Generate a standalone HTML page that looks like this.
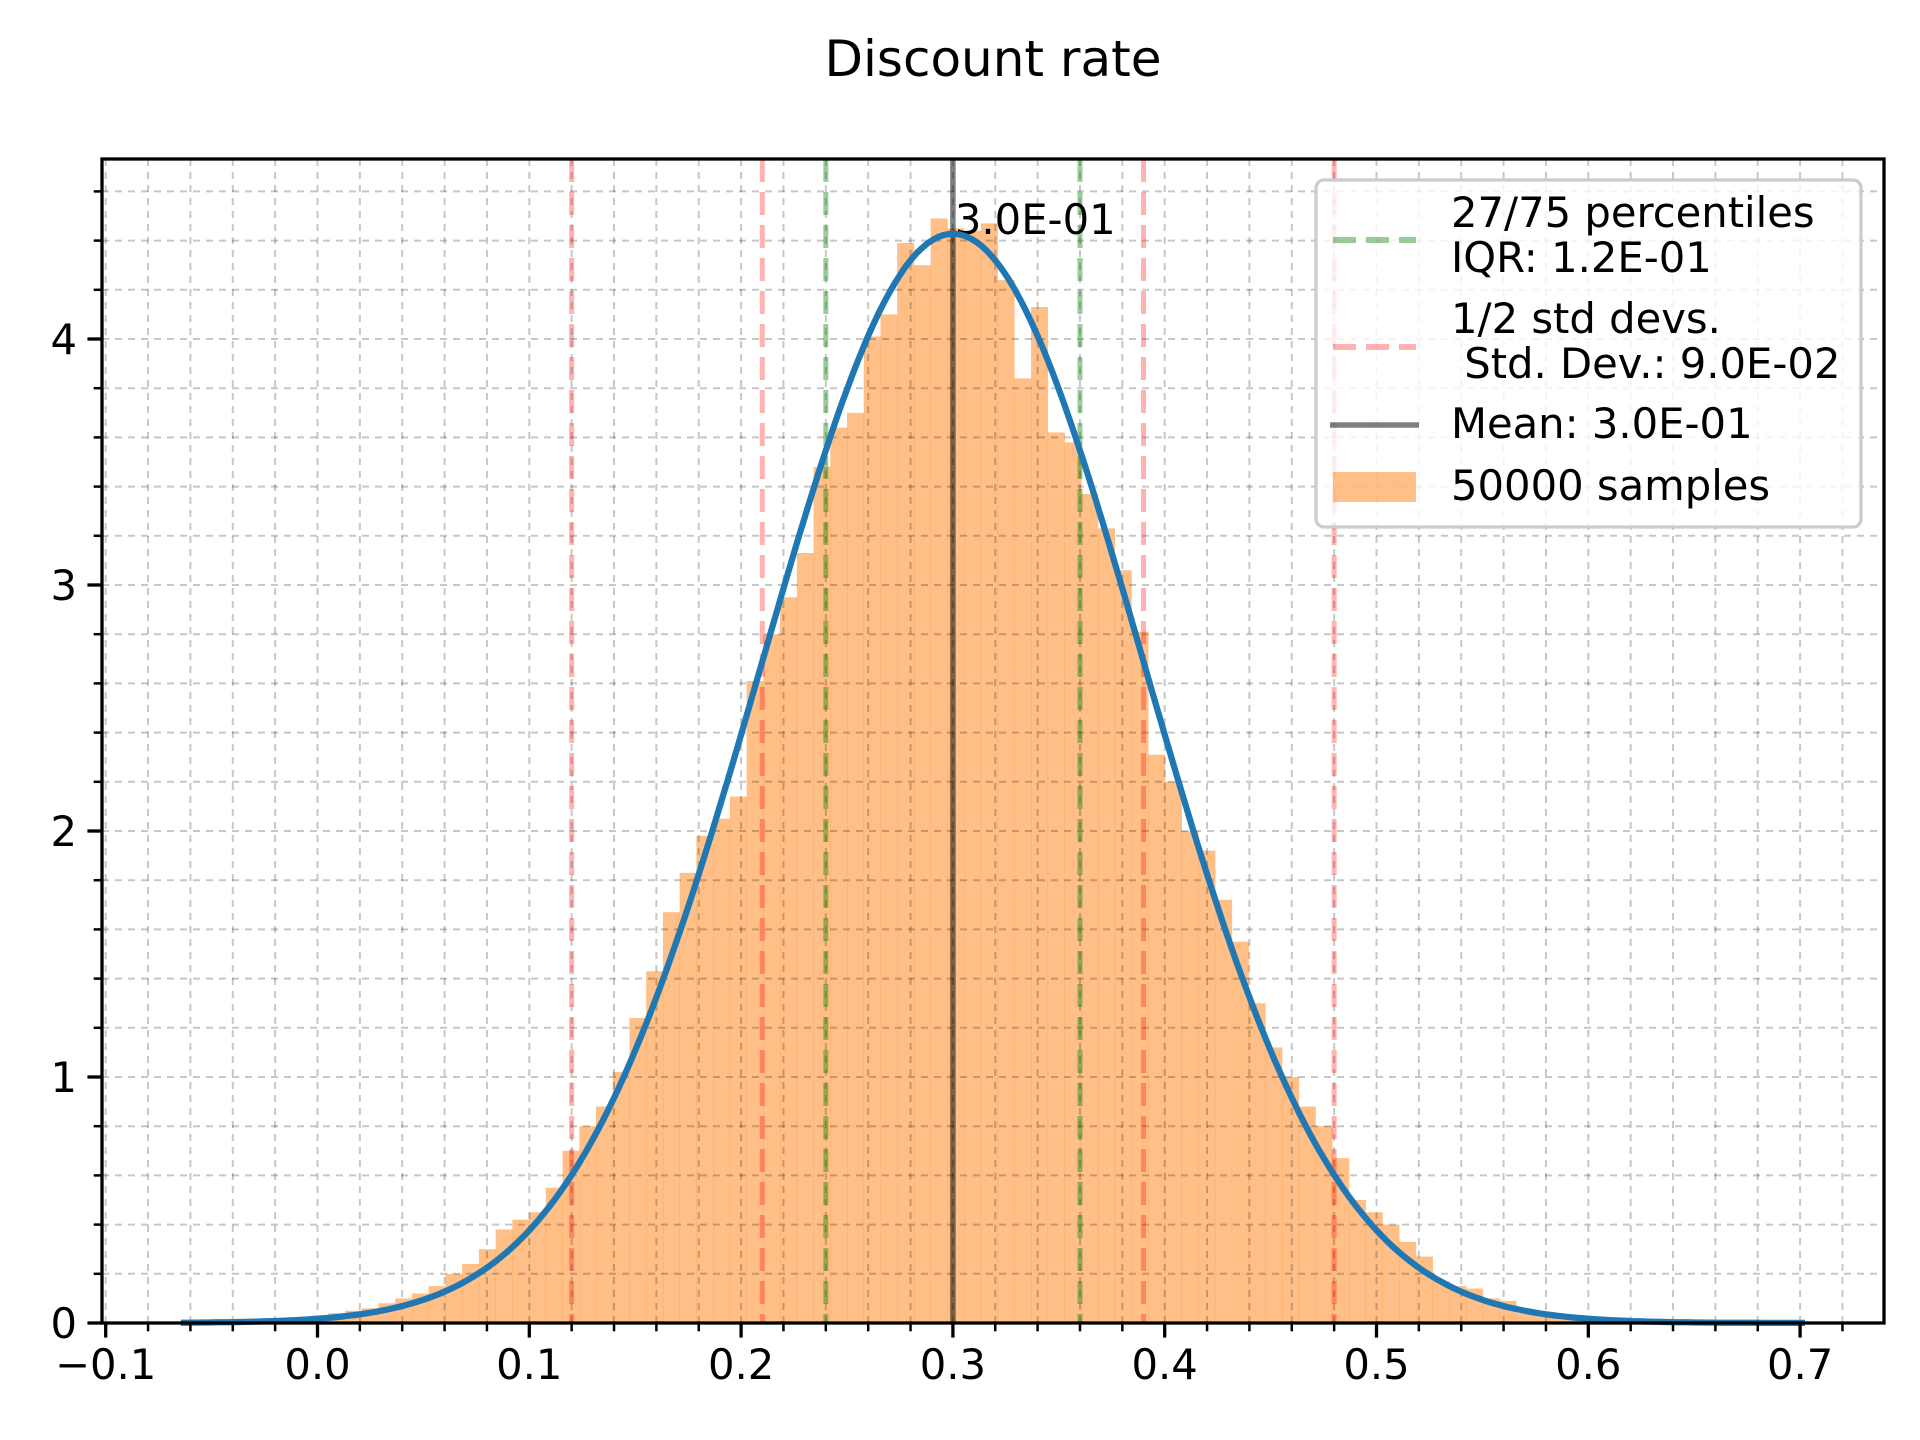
<!DOCTYPE html>
<html><head><meta charset="utf-8"><style>
html,body{margin:0;padding:0;background:#fff;}
svg{display:block;font-family:"DejaVu Sans","Liberation Sans",sans-serif;}
</style></head><body>
<svg id="chart" width="1920" height="1440" viewBox="0 0 1920 1440" xmlns="http://www.w3.org/2000/svg">
<rect width="1920" height="1440" fill="#fff"/>
<text x="993" y="76" font-size="50" text-anchor="middle" fill="#000">Discount rate</text>
<g id="bars"></g><g id="grid"></g><g id="vlines"></g><g id="curve"></g><g id="axes"></g><g id="legend"></g>
</svg>
<script>
const binStart = -0.0581;
const binWidth = 0.0079;
const densities = [0,0,0,0.005,0.01,0.01,0.02,0.03,0.04,0.05,0.06,0.08,0.1,0.12,0.15,0.2,0.24,0.3,0.38,0.42,0.45,0.55,0.7,0.8,0.88,1.02,1.24,1.43,1.67,1.83,1.98,2.05,
2.14,2.61,2.80,2.95,3.13,3.48,3.64,3.70,4.01,4.10,4.39,4.30,4.49,4.45,4.44,4.47,4.24,3.84,4.13,3.62,3.58,3.37,3.23,3.06,2.81,2.31,2.20,
2.0,1.92,1.72,1.55,1.3,1.12,1.0,0.88,0.8,0.67,0.5,0.45,0.4,0.33,0.27,0.17,0.15,0.14,0.1,0.09,0.04,0.03,0.02,0.015,0.01,0.005,0.004,0.003,0.002,0.001,0.001,0,0,0,0,0,0,0];
const fitMean = 0.3;
const fitStd = 0.0901;
const fitRange = [-0.0645, 0.7023];
const stdLines = [0.12, 0.21, 0.39, 0.48];
const pctLines = [0.24, 0.36];
const meanValue = 0.3;
const xTicks = [-0.1,0,0.1,0.2,0.3,0.4,0.5,0.6,0.7];
const xTickLabels = ["−0.1","0.0","0.1","0.2","0.3","0.4","0.5","0.6","0.7"];
const yTicks = [0,1,2,3,4];
const yTickLabels = ["0","1","2","3","4"];

const L=102,R=1884,T=159,B=1323;
const x0=317.5, xs=2118;
const X=v=>x0+v*xs;
const Y=v=>B-v*246;
const xMin=(L-x0)/xs, xMax=(R-x0)/xs, yMax=(B-T)/246;
const NS="http://www.w3.org/2000/svg";
function mk(tag,attrs,parent){const e=document.createElementNS(NS,tag);for(const k in attrs)e.setAttribute(k,attrs[k]);parent.appendChild(e);return e;}

const gb=document.getElementById('bars');
densities.forEach((d,i)=>{
  if(d<=0)return;
  const xa=X(binStart+i*binWidth), xb=X(binStart+(i+1)*binWidth);
  const r=mk('rect',{x:xa,y:Y(d),width:xb-xa+0.3,height:Y(0)-Y(d),fill:'#ff7f0e','fill-opacity':0.5},gb);
  
  
});

const gg=document.getElementById('grid');
for(let k=-5;k<=37;k++){const v=k*0.02;if(v<xMin||v>xMax)continue;
  const l=mk('line',{x1:X(v),x2:X(v),y1:T,y2:B,stroke:'#000','stroke-opacity':0.22,'stroke-width':2,'stroke-dasharray':'7,6'},gg);
  
  }
for(let k=1;k<=23;k++){const v=k*0.2;if(v>yMax)continue;
  const l=mk('line',{x1:L,x2:R,y1:Y(v),y2:Y(v),stroke:'#000','stroke-opacity':0.22,'stroke-width':2,'stroke-dasharray':'7,6'},gg);
  
  }

const gv=document.getElementById('vlines');
stdLines.forEach(v=>{const l=mk('line',{x1:X(v),x2:X(v),y1:T,y2:B,stroke:'#ff0000','stroke-opacity':0.3,'stroke-width':5,'stroke-dasharray':'23,10'},gv);
  
  });
pctLines.forEach(v=>{const l=mk('line',{x1:X(v),x2:X(v),y1:T,y2:B,stroke:'#008000','stroke-opacity':0.4,'stroke-width':5,'stroke-dasharray':'23,10'},gv);
  
  });
const ml=mk('line',{x1:X(meanValue),x2:X(meanValue),y1:T,y2:B,stroke:'#000','stroke-opacity':0.5,'stroke-width':5.5},gv);


const mt=mk('text',{x:X(meanValue)+2,y:234,'font-size':41.7,fill:'#000'},gv);
mt.textContent='3.0E-01';



const gc=document.getElementById('curve');
let pts=[];
for(let i=0;i<=300;i++){const v=fitRange[0]+(fitRange[1]-fitRange[0])*i/300;
  const p=Math.exp(-0.5*((v-fitMean)/fitStd)**2)/(fitStd*Math.sqrt(2*Math.PI));
  pts.push(X(v).toFixed(1)+','+Y(p).toFixed(1));}
const cp=mk('polyline',{points:pts.join(' '),fill:'none',stroke:'#1f77b4','stroke-width':6.25,'stroke-linejoin':'round'},gc);



const ga=document.getElementById('axes');
for(let k=-5;k<=37;k++){const v=k*0.02;if(v<xMin||v>xMax)continue;
  const t=mk('line',{x1:X(v),x2:X(v),y1:B,y2:B+8.3,stroke:'#000','stroke-width':2.5},ga);
  
  }
for(let k=1;k<=23;k++){const v=k*0.2;if(v>yMax)continue;
  const t=mk('line',{x1:L-8.3,x2:L,y1:Y(v),y2:Y(v),stroke:'#000','stroke-width':2.5},ga);
  
  }
xTicks.forEach((v,i)=>{
  const t=mk('line',{x1:X(v),x2:X(v),y1:B,y2:B+14.6,stroke:'#000','stroke-width':3.3},ga);
  
  
  const tx=mk('text',{x:X(v),y:B+56,'font-size':41.7,'text-anchor':'middle',fill:'#000'},ga);
  tx.textContent=xTickLabels[i];
  
  });
yTicks.forEach((v,i)=>{
  const t=mk('line',{x1:L-14.6,x2:L,y1:Y(v),y2:Y(v),stroke:'#000','stroke-width':3.3},ga);
  
  
  const tx=mk('text',{x:L-25,y:Y(v)+15,'font-size':41.7,'text-anchor':'end',fill:'#000'},ga);
  tx.textContent=yTickLabels[i];
  
  });
const fr=mk('rect',{x:L,y:T,width:R-L,height:B-T,fill:'none',stroke:'#000','stroke-width':3.3},ga);



const gl=document.getElementById('legend');


mk('rect',{x:1316,y:180,width:545,height:347,rx:8,fill:'#fff','fill-opacity':0.8,stroke:'#cccccc','stroke-width':3.3},gl);
function ltext(s,x,y){const t=mk('text',{x:x,y:y,'font-size':41.7,fill:'#000'},gl);t.textContent=s;}
const HX1=1333, HX2=1416, TX=1451;
let h=mk('line',{x1:HX1,x2:HX2,y1:240,y2:240,stroke:'#008000','stroke-opacity':0.4,'stroke-width':6,'stroke-dasharray':'23,10'},gl);


ltext('27/75 percentiles',TX,227);ltext('IQR: 1.2E-01',TX,272);
h=mk('line',{x1:HX1,x2:HX2,y1:347,y2:347,stroke:'#ff0000','stroke-opacity':0.3,'stroke-width':6,'stroke-dasharray':'23,10'},gl);


ltext('1/2 std devs.',TX,333);ltext('\u00a0Std. Dev.: 9.0E-02',TX,378);
h=mk('line',{x1:HX1-3,x2:HX2+3,y1:425,y2:425,stroke:'#000','stroke-opacity':0.5,'stroke-width':5.5},gl);


ltext('Mean: 3.0E-01',TX,438);
h=mk('rect',{x:HX1,y:472,width:HX2-HX1,height:30,fill:'#ff7f0e','fill-opacity':0.5},gl);


ltext('50000 samples',TX,500);
</script>
</body></html>
